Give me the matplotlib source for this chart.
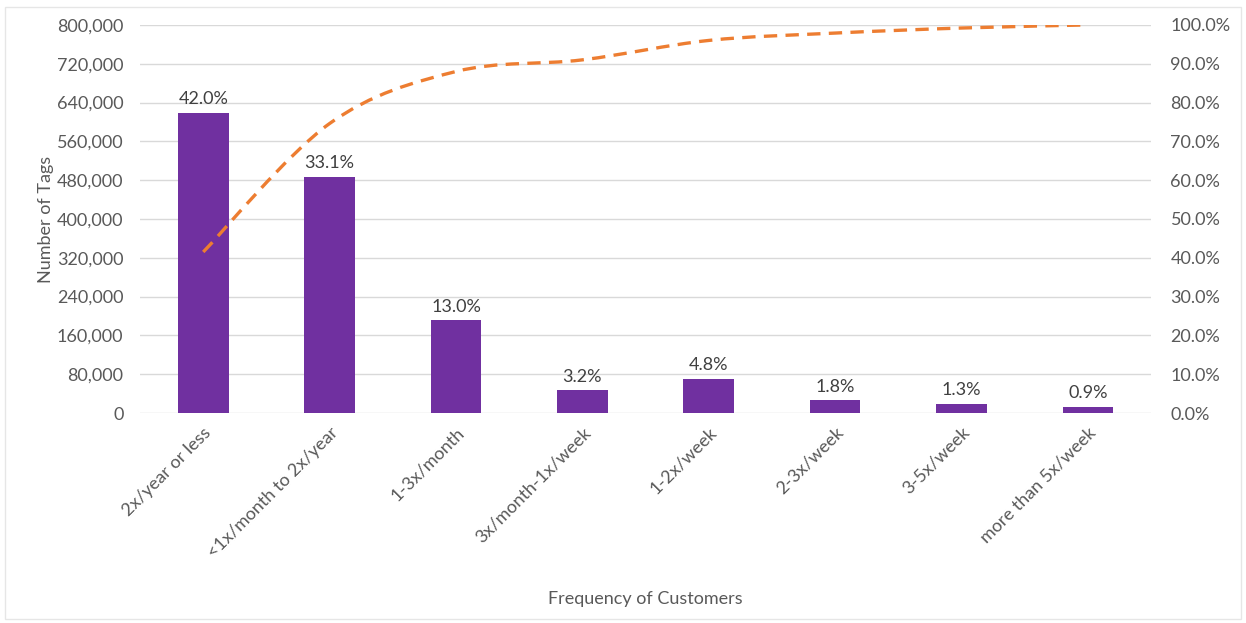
import matplotlib
matplotlib.use("Agg")
import matplotlib.pyplot as plt
from matplotlib.ticker import FuncFormatter
from matplotlib.path import Path
from matplotlib.patches import PathPatch

categories = ["2x/year or less", "<1x/month to 2x/year", "1-3x/month", "3x/month-1x/week",
              "1-2x/week", "2-3x/week", "3-5x/week", "more than 5x/week"]
tags = [618500, 487400, 191500, 47100, 70700, 26500, 19150, 13250]
pct_labels = ["42.0%", "33.1%", "13.0%", "3.2%", "4.8%", "1.8%", "1.3%", "0.9%"]
cumulative = [41.5, 74.6, 88.0, 91.0, 96.0, 97.9, 99.2, 100.0]

plt.rcParams['font.family'] = ['Lato', 'DejaVu Sans']
txt = "#595959"
fs = 13

fig = plt.figure(figsize=(12.46, 6.23), dpi=100)
ax = fig.add_axes([0.1124, 0.337, 0.8114, 0.623])
x = list(range(len(categories)))
ax.bar(x, tags, width=0.4, color="#7030A0", zorder=3)
for xi, v, lab in zip(x, tags, pct_labels):
    ax.annotate(lab, (xi, v), xytext=(0, 4), textcoords="offset points",
                ha="center", va="bottom", fontsize=fs, color="#404040")
ax.set_xlim(-0.5, len(categories) - 0.5)
ax.set_ylim(0, 800000)
ax.set_yticks(range(0, 800001, 80000))
ax.yaxis.set_major_formatter(FuncFormatter(lambda v, p: f"{int(v):,}"))
ax.grid(axis="y", color="#D9D9D9", linewidth=1, zorder=0)
for s in ax.spines.values():
    s.set_visible(False)
ax.tick_params(axis="both", length=0, labelsize=fs, labelcolor=txt)
ax.tick_params(axis="y", pad=12)
ax.set_xticks(x)
ax.set_xticklabels(categories, rotation=45, ha="right", rotation_mode="anchor")
ax.tick_params(axis="x", pad=8)
ax.set_ylabel("Number of Tags", fontsize=fs, color=txt, labelpad=2)
ax.set_xlabel("Frequency of Customers", fontsize=fs, color=txt, labelpad=22)

ax2 = ax.twinx()
ax2.set_ylim(0, 100)
# smoothed (Catmull-Rom style) line through the cumulative points, like Excel's smoothed line
verts = [(x[0], cumulative[0])]
codes = [Path.MOVETO]
n = len(x)
for i in range(n - 1):
    p0 = (x[i - 1], cumulative[i - 1]) if i > 0 else (x[i], cumulative[i])
    p1 = (x[i], cumulative[i])
    p2 = (x[i + 1], cumulative[i + 1])
    p3 = (x[i + 2], cumulative[i + 2]) if i + 2 < n else p2
    c1 = (p1[0] + (p2[0] - p0[0]) / 6, p1[1] + (p2[1] - p0[1]) / 6)
    c2 = (p2[0] - (p3[0] - p1[0]) / 6, p2[1] - (p3[1] - p1[1]) / 6)
    verts += [c1, c2, p2]
    codes += [Path.CURVE4] * 3
ax2.add_patch(PathPatch(Path(verts, codes), fill=False, edgecolor="#ED7D31",
                        linestyle=(0, (4, 2.5)), linewidth=2.4, zorder=4))
ax2.set_yticks(range(0, 101, 10))
ax2.yaxis.set_major_formatter(FuncFormatter(lambda v, p: f"{v:.1f}%"))
for s in ax2.spines.values():
    s.set_visible(False)
ax2.tick_params(axis="y", length=0, labelsize=fs, labelcolor=txt, pad=14)

fig.add_artist(plt.Rectangle((0.004, 0.006), 0.992, 0.982, transform=fig.transFigure,
                             fill=False, edgecolor="#E6E6E6", linewidth=1))
fig.savefig("out.png", dpi=100)
